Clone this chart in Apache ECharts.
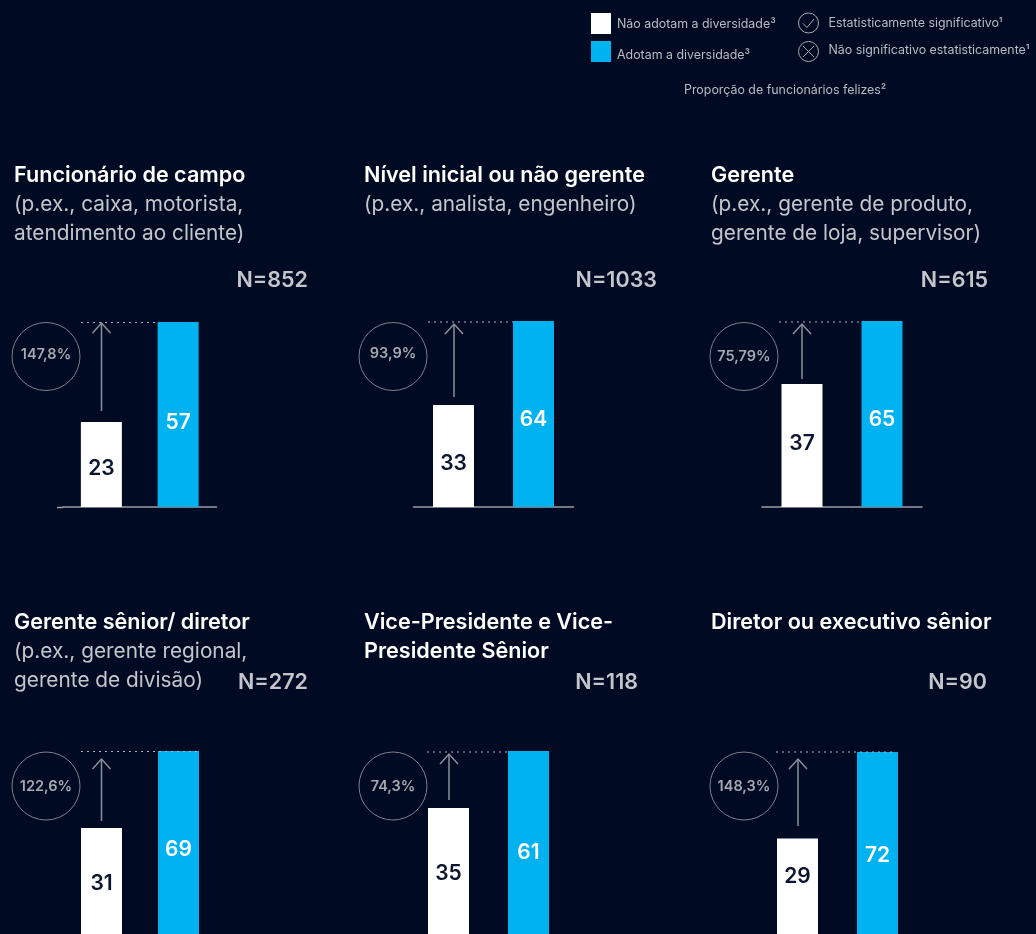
<!DOCTYPE html>
<html><head><meta charset="utf-8">
<style>html,body{margin:0;padding:0;background:#000b23}#c{width:1036px;height:934px}</style>
<script src="https://cdn.jsdelivr.net/npm/echarts@6/dist/echarts.min.js"></script>
</head><body><div id="c"></div>
<script>
// ---- data ----
const categories = ['Não adotam a diversidade', 'Adotam a diversidade'];
const withoutDiversity = [23, 33, 37, 31, 35, 29];
const withDiversity = [57, 64, 65, 69, 61, 72];
const upliftLabels = ['147,8%', '93,9%', '75,79%', '122,6%', '74,3%', '148,3%'];
const sampleLabels = ['N=852', 'N=1033', 'N=615', 'N=272', 'N=118', 'N=90'];
const panelHeads = [
  ['Funcionário de campo'], ['Nível inicial ou não gerente'], ['Gerente'],
  ['Gerente sênior/ diretor'], ['Vice-Presidente e Vice-', 'Presidente Sênior'], ['Diretor ou executivo sênior']
];
const panelNotes = [
  ['(p.ex., caixa, motorista,', 'atendimento ao cliente)'], ['(p.ex., analista, engenheiro)'],
  ['(p.ex., gerente de produto,', 'gerente de loja, supervisor)'],
  ['(p.ex., gerente regional,', 'gerente de divisão)'], [], []
];
const legendNames = ['Não adotam a diversidade³', 'Adotam a diversidade³'];
const statusNotes = ['Estatisticamente significativo¹', 'Não significativo estatisticamente¹'];
const metricNote = 'Proporção de funcionários felizes²';

// ---- layout (the source draws each bar of a panel on its own scale) ----
const whiteAxisMax = [50.06, 60.2, 55.95, 52.9, 50.5, 54.5];
const gridLeft = [63, 413.5, 762, 63, 408.5, 757.5];
const gridWidth = [153.5, 160, 160, 154, 160, 160];
const gridTop = [322, 321, 321, 751, 751, 752];
const gridHeight = [185, 186, 186, 186, 186, 185];
const labelShiftWhite = [4.5, 8, -2, 1.5, 1.5, -11.5];
const labelShiftBlue = [8, 5.5, 6, 5.5, 8.5, 11];
const headX = [14, 364, 711, 14, 364, 711];
const headY = [161, 161, 161, 608, 608, 608];
const sampleRight = [308, 657, 988, 308, 638, 987];
const sampleY = [281, 281, 281, 683, 683, 683];
const circleX = [46, 393, 744, 46, 393, 744];
const circleY = [356.5, 356.5, 356.5, 786, 786, 786];
const circleTextY = [355, 353.5, 357, 787, 787, 787];
const arrowX = [101.5, 454, 802, 101.5, 449, 798];
const arrowTop = [323, 324, 324, 759, 754, 759];
const arrowBottom = [411, 397, 379, 821, 800, 826];
const dotsFrom = [81, 428, 779, 81, 427, 776];
const dotsTo = [158, 513, 861, 199, 508, 895];
const dotsY = [322.5, 322, 322, 751.5, 752, 752];

const BG = '#000b23', BLUE = '#00b2f0', INK = '#0b1530', GREY = '#b9bbc2', LINE = '#8d909a';
const FONT = 'Inter, "Liberation Sans", sans-serif';

const grids = [], xAxes = [], yAxes = [], series = [], titles = [], graphics = [];
withDiversity.forEach((blue, i) => {
  grids.push({ left: gridLeft[i], top: gridTop[i], width: gridWidth[i], height: gridHeight[i], outerBoundsMode: 'none' });
  xAxes.push({
    type: 'category', gridIndex: i, data: categories,
    axisLabel: { show: false }, axisTick: { show: false },
    axisLine: { show: true, lineStyle: { color: '#9a9da6', width: 1.5 } }
  });
  const hidden = { type: 'value', gridIndex: i, min: 0, show: false, splitLine: { show: false } };
  yAxes.push({ ...hidden, max: whiteAxisMax[i] });
  yAxes.push({ ...hidden, max: blue });
  const base = { type: 'bar', xAxisIndex: i, barWidth: 41, barGap: '-100%', animation: false, silent: true };
  const lab = (color, dy) => ({ show: true, position: 'inside', offset: [0, dy], color, fontFamily: FONT, fontSize: 21, fontWeight: 600 });
  series.push({ ...base, name: legendNames[0], yAxisIndex: 2 * i, data: [withoutDiversity[i], null],
    itemStyle: { color: '#ffffff' }, label: lab(INK, labelShiftWhite[i]) });
  series.push({ ...base, name: legendNames[1], yAxisIndex: 2 * i + 1, data: [null, blue],
    itemStyle: { color: BLUE }, label: lab('#ffffff', labelShiftBlue[i]) });

  const heads = panelHeads[i].map(t => '{b|' + t + '}');
  const notes = panelNotes[i].map(t => '{r|' + t + '}');
  titles.push({
    left: headX[i], top: headY[i], padding: 0, text: heads.concat(notes).join('\n'),
    textStyle: { rich: {
      b: { fontFamily: FONT, fontSize: 21.6, fontWeight: 600, color: '#ffffff', lineHeight: 29 },
      r: { fontFamily: FONT, fontSize: 20.8, fontWeight: 400, color: '#c4c6cc', lineHeight: 29 }
    } }
  });

  graphics.push({ type: 'text', z: 20, style: { x: sampleRight[i], y: sampleY[i], text: sampleLabels[i], align: 'right', verticalAlign: 'middle',
    fontFamily: FONT, fontSize: 21.5, fontWeight: 600, fill: '#c4c6cc' } });
  graphics.push({ type: 'circle', z: 20, shape: { cx: circleX[i], cy: circleY[i], r: 34 },
    style: { fill: 'none', stroke: '#7d808a', lineWidth: 1 } });
  graphics.push({ type: 'text', z: 21, style: { x: circleX[i], y: circleTextY[i], text: upliftLabels[i], align: 'center', verticalAlign: 'middle',
    fontFamily: FONT, fontSize: 14.5, fontWeight: 600, fill: '#a7a9b0' } });
  graphics.push({ type: 'line', z: 20, shape: { x1: dotsFrom[i], y1: dotsY[i], x2: dotsTo[i], y2: dotsY[i] },
    style: { stroke: '#b0b2b9', lineWidth: 1, lineDash: [2, 4] } });
  graphics.push({ type: 'polyline', z: 20, shape: { points: [[arrowX[i], arrowBottom[i]], [arrowX[i], arrowTop[i]]] },
    style: { fill: 'none', stroke: LINE, lineWidth: 1.5 } });
  graphics.push({ type: 'polyline', z: 20, shape: { points: [[arrowX[i] - 9, arrowTop[i] + 10], [arrowX[i], arrowTop[i]], [arrowX[i] + 9, arrowTop[i] + 10]] },
    style: { fill: 'none', stroke: LINE, lineWidth: 1.5 } });
});

// baseline of the first panel starts left of its grid
graphics.push({ type: 'line', shape: { x1: 57, y1: 507.5, x2: 63, y2: 507.5 }, style: { stroke: '#9a9da6', lineWidth: 1.5 } });

// status key
const smallText = (x, y, text) => ({ type: 'text', style: { x, y, text, align: 'left', verticalAlign: 'middle',
  fontFamily: FONT, fontSize: 12.4, fill: GREY } });
graphics.push({ type: 'circle', shape: { cx: 808.5, cy: 23, r: 10 }, style: { fill: 'none', stroke: '#a8aab2', lineWidth: 1 } });
graphics.push({ type: 'polyline', shape: { points: [[803, 23.5], [807, 27.5], [814, 19]] }, style: { fill: 'none', stroke: '#a8aab2', lineWidth: 1 } });
graphics.push({ type: 'circle', shape: { cx: 808.5, cy: 51.5, r: 10 }, style: { fill: 'none', stroke: '#a8aab2', lineWidth: 1 } });
graphics.push({ type: 'line', shape: { x1: 803, y1: 46, x2: 814, y2: 57 }, style: { stroke: '#a8aab2', lineWidth: 1 } });
graphics.push({ type: 'line', shape: { x1: 814, y1: 46, x2: 803, y2: 57 }, style: { stroke: '#a8aab2', lineWidth: 1 } });
graphics.push(smallText(828.5, 23, statusNotes[0]));
graphics.push(smallText(828.5, 50.5, statusNotes[1]));
graphics.push(smallText(684, 90.5, metricNote));

const legendBase = { left: 591, orient: 'vertical', itemWidth: 20, itemHeight: 21, selectedMode: false, icon: 'rect', padding: 0,
  formatter: name => '{t|' + name + '}' };
const legendText = pad => ({ rich: { t: { fontFamily: FONT, fontSize: 12.4, color: GREY, padding: [pad, 0, 0, 1] } } });

const chart = echarts.init(document.getElementById('c'), null, { renderer: 'canvas' });
chart.setOption({
  backgroundColor: BG, animation: false, tooltip: { show: false },
  title: titles,
  legend: [
    { ...legendBase, top: 13, data: [legendNames[0]], textStyle: legendText(2) },
    { ...legendBase, top: 41, data: [legendNames[1]], textStyle: legendText(8) }
  ],
  grid: grids, xAxis: xAxes, yAxis: yAxes, series, graphic: graphics
});
</script></body></html>
